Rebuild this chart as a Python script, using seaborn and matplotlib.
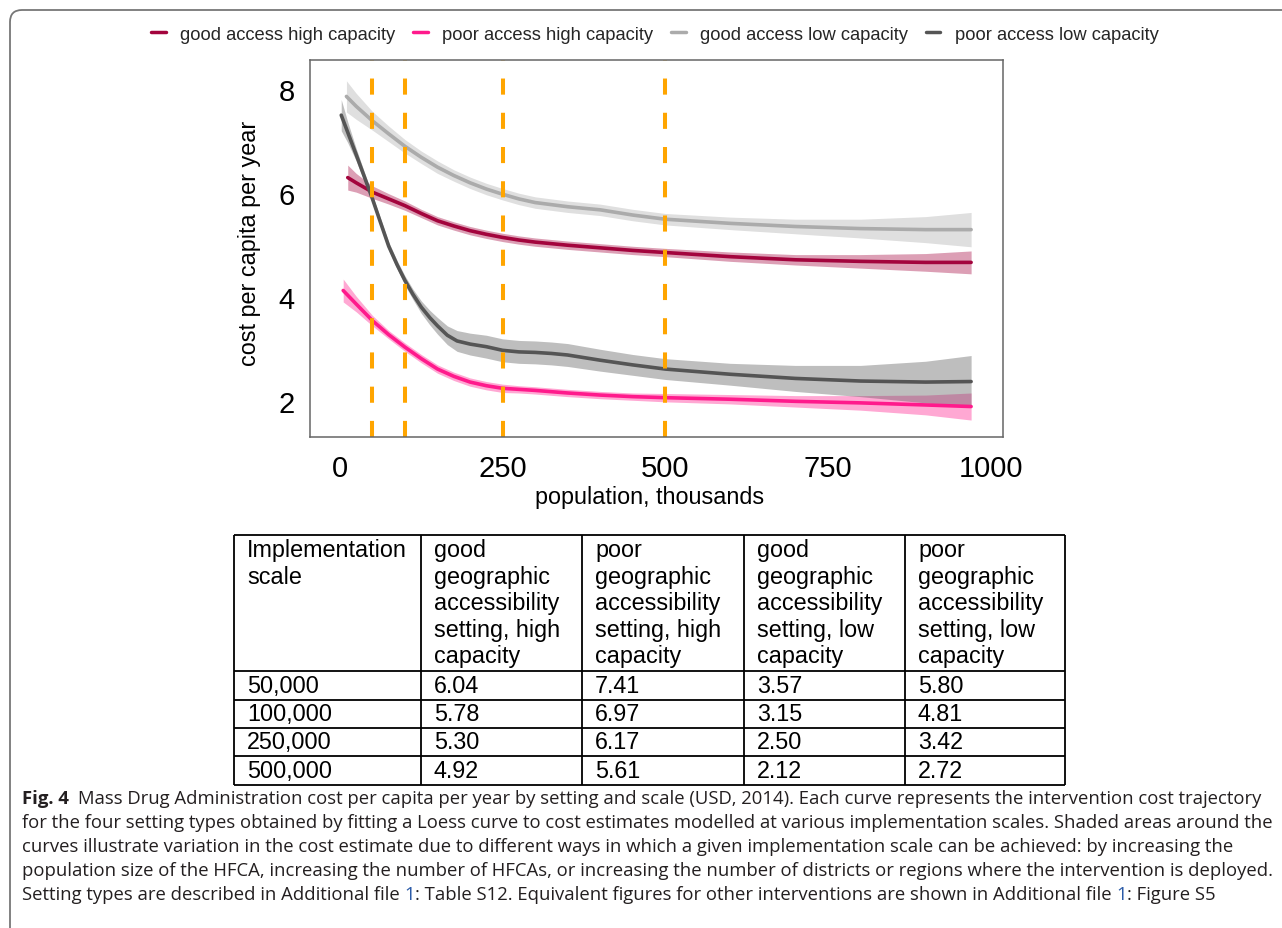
import numpy as np
import pandas as pd
import seaborn as sns
import matplotlib.pyplot as plt
from matplotlib.patches import FancyBboxPatch
from matplotlib.lines import Line2D
from matplotlib.transforms import IdentityTransform

sns.set_theme(style='white')
plt.rcParams['font.family'] = ['Liberation Sans', 'DejaVu Sans']

W, H = 1282, 929

# --- curves (loess fits), population in thousands ---
series = ['good access high capacity', 'poor access high capacity',
          'good access low capacity', 'poor access low capacity']
colors = ['#A3043D', '#FF1A8C', '#ABABAB', '#555555']

x_good_high = [12, 25, 50, 75, 100, 125, 150, 175, 200, 225, 250, 275, 300, 350, 400, 450, 500, 600, 700, 800, 900, 970]
y_good_high = [6.30, 6.20, 6.02, 5.89, 5.76, 5.61, 5.47, 5.37, 5.28, 5.21, 5.15, 5.10, 5.06, 5.00, 4.95, 4.90, 4.86, 4.78, 4.72, 4.69, 4.67, 4.67]
se_good_high = [0.24, 0.18, 0.12, 0.10, 0.09, 0.08, 0.08, 0.08, 0.08, 0.08, 0.08, 0.08, 0.08, 0.08, 0.08, 0.08, 0.08, 0.09, 0.10, 0.13, 0.17, 0.22]

x_poor_high = [5, 25, 50, 75, 100, 125, 150, 175, 200, 225, 250, 275, 300, 350, 400, 450, 500, 600, 700, 800, 900, 970]
y_poor_high = [4.13, 3.87, 3.55, 3.28, 3.04, 2.82, 2.62, 2.48, 2.37, 2.30, 2.25, 2.23, 2.21, 2.16, 2.12, 2.09, 2.07, 2.04, 2.00, 1.97, 1.93, 1.90]
se_poor_high = [0.22, 0.15, 0.10, 0.08, 0.08, 0.08, 0.08, 0.08, 0.08, 0.08, 0.08, 0.07, 0.07, 0.07, 0.07, 0.07, 0.08, 0.09, 0.11, 0.14, 0.19, 0.26]

x_good_low = [10, 25, 50, 75, 100, 125, 150, 175, 200, 225, 250, 275, 300, 350, 400, 450, 500, 600, 700, 800, 900, 970]
y_good_low = [7.86, 7.67, 7.39, 7.14, 6.90, 6.69, 6.50, 6.34, 6.20, 6.08, 5.98, 5.89, 5.82, 5.74, 5.68, 5.58, 5.50, 5.42, 5.36, 5.32, 5.30, 5.30]
se_good_low = [0.30, 0.25, 0.18, 0.15, 0.13, 0.12, 0.12, 0.11, 0.11, 0.11, 0.11, 0.11, 0.11, 0.11, 0.11, 0.11, 0.11, 0.12, 0.14, 0.18, 0.25, 0.33]

x_poor_low = [2, 12, 25, 38, 50, 62, 75, 88, 100, 112, 125, 138, 150, 165, 180, 200, 225, 250, 275, 300, 325, 350, 400, 450, 500, 600, 700, 800, 900, 970]
y_poor_low = [7.50, 7.17, 6.74, 6.30, 5.89, 5.45, 4.98, 4.62, 4.32, 4.06, 3.81, 3.61, 3.45, 3.27, 3.16, 3.10, 3.05, 2.98, 2.95, 2.94, 2.92, 2.89, 2.79, 2.70, 2.62, 2.52, 2.44, 2.39, 2.37, 2.38]
se_poor_low = [0.30, 0.20, 0.12, 0.09, 0.08, 0.08, 0.08, 0.08, 0.09, 0.10, 0.12, 0.14, 0.16, 0.18, 0.20, 0.21, 0.22, 0.22, 0.22, 0.22, 0.22, 0.22, 0.21, 0.20, 0.20, 0.21, 0.25, 0.30, 0.40, 0.50]

# implementation scales marked on the plot (thousands)
scales = [50, 100, 250, 500]

# --- table ---
table_header = ['Implementation\nscale',
                'good\ngeographic\naccessibility\nsetting, high\ncapacity',
                'poor\ngeographic\naccessibility\nsetting, high\ncapacity',
                'good\ngeographic\naccessibility\nsetting, low\ncapacity',
                'poor\ngeographic\naccessibility\nsetting, low\ncapacity']
cost_good_high = [6.04, 5.78, 5.30, 4.92]
cost_poor_high = [7.41, 6.97, 6.17, 5.61]
cost_good_low = [3.57, 3.15, 2.50, 2.12]
cost_poor_low = [5.80, 4.81, 3.42, 2.72]

curves = {
    series[0]: (x_good_high, y_good_high, se_good_high),
    series[1]: (x_poor_high, y_poor_high, se_poor_high),
    series[2]: (x_good_low, y_good_low, se_good_low),
    series[3]: (x_poor_low, y_poor_low, se_poor_low),
}

fig = plt.figure(figsize=(W / 100, H / 100), dpi=100)

# frame around the whole figure panel (only top/left visible)
frame = FancyBboxPatch((10, -60), 1400, H - 11 + 60,
                       boxstyle='round,pad=0,rounding_size=12',
                       transform=IdentityTransform(), fill=False,
                       edgecolor='#777777', lw=1.3)
fig.add_artist(frame)

ax = fig.add_axes([310 / W, 1 - 437.7 / H, 693 / W, 376.7 / H])

for name, col in zip(series, colors):
    x, y, se = curves[name]
    df = pd.DataFrame({'population': x, 'cost': y})
    lo = np.array(y) - np.array(se)
    hi = np.array(y) + np.array(se)
    ax.fill_between(x, lo, hi, color=col, alpha=0.38, lw=0)
    sns.lineplot(data=df, x='population', y='cost', color=col, lw=2.6,
                 ax=ax, estimator=None, sort=False)

for s in scales:
    ax.axvline(s, color='#FFA500', lw=2.9, linestyle=(0, (4, 4.5)))

ax.set_xlim(-46, 1019)
ax.set_ylim(1.32, 8.56)
ax.set_xticks([0, 250, 500, 750, 1000])
ax.set_yticks([2, 4, 6, 8])
ax.tick_params(axis='both', which='major', labelsize=21, length=6.6, width=2,
               color='#333333', labelcolor='black', pad=4.5, direction='out')
ax.tick_params(axis='x', pad=5.5)
for sp in ax.spines.values():
    sp.set_color('#666666')
    sp.set_linewidth(1.1)
ax.set_xlabel('population, thousands', fontsize=16.8, color='black')
ax.set_ylabel('cost per capita per year', fontsize=16.8, color='black')
ax.xaxis.set_label_coords(0.49, -0.128)
ax.yaxis.set_label_coords(-0.07, 0.515)

handles = [Line2D([0], [0], color=c, lw=2.5) for c in colors]
fig.legend(handles, series, loc='center', bbox_to_anchor=(655 / W, 1 - 35 / H),
           ncol=4, frameon=False, fontsize=13.2, handlelength=0.8,
           handletextpad=0.8, columnspacing=0.95)

# --- table drawn by hand ---
tab = fig.add_axes([234 / W, 1 - 786 / H, 831 / W, 250 / H])
tab.set_xlim(0, 831)
tab.set_ylim(250, 0)
tab.axis('off')
col_edges = [0, 187, 348, 510, 671, 831]
row_edges = [0, 136, 165, 193, 221, 250]
tab.hlines(row_edges, 0, 831, color='black', lw=1.3, clip_on=False)
tab.vlines(col_edges, 0, 250, color='black', lw=1.3, clip_on=False)

rows = [[f'{s * 1000:,}', f'{a:.2f}', f'{b:.2f}', f'{c:.2f}', f'{d:.2f}']
        for s, a, b, c, d in zip(scales, cost_good_high, cost_poor_high,
                                 cost_good_low, cost_poor_low)]
for j, txt in enumerate(table_header):
    tab.text(col_edges[j] + 13, 3, txt, ha='left', va='top', fontsize=16.8,
             color='black', linespacing=1.2)
for i, r in enumerate(rows):
    yb = row_edges[i + 2] - 8
    for j, txt in enumerate(r):
        tab.text(col_edges[j] + 13, yb, txt, ha='left', va='baseline',
                 fontsize=16.8, color='black')

# --- caption ---
cap_font = ['Open Sans', 'DejaVu Sans']
cap_size = 13.3
blue = '#2B5BA8'
ink = '#231F20'
caption = [
    [('Fig. 4', ink, 'bold', 0),
     ('Mass Drug Administration cost per capita per year by setting and scale (USD, 2014). '
      'Each curve represents the intervention cost trajectory', ink, 'normal', 2)],
    [('for the four setting types obtained by fitting a Loess curve to cost estimates modelled '
      'at various implementation scales. Shaded areas around the', ink, 'normal', 0)],
    [('curves illustrate variation in the cost estimate due to different ways in which a given '
      'implementation scale can be achieved: by increasing the', ink, 'normal', 0)],
    [('population size of the HFCA, increasing the number of HFCAs, or increasing the number of '
      'districts or regions where the intervention is deployed.', ink, 'normal', 0)],
    [('Setting types are described in Additional file', ink, 'normal', 0),
     ('1', blue, 'normal', 1),
     (': Table S12. Equivalent figures for other interventions are shown in Additional file',
      ink, 'normal', 0),
     ('1', blue, 'normal', 1),
     (': Figure S5', ink, 'normal', 0)],
]
renderer = fig.canvas.get_renderer()
probe1 = fig.text(0, 0, 'xx', fontsize=cap_size, family=cap_font)
probe2 = fig.text(0, 0, 'x x', fontsize=cap_size, family=cap_font)
space_w = (probe2.get_window_extent(renderer).width
           - probe1.get_window_extent(renderer).width)
probe1.remove()
probe2.remove()

baselines = [804, 828, 852, 876, 900]
for line, yb in zip(caption, baselines):
    xpix = 22
    for txt, col, wt, nsp in line:
        xpix += nsp * space_w
        t = fig.text(xpix / W, 1 - yb / H, txt, fontsize=cap_size, family=cap_font,
                     color=col, weight=wt, va='baseline', ha='left')
        xpix = t.get_window_extent(renderer).x1

fig.savefig('out.png', dpi=100)
